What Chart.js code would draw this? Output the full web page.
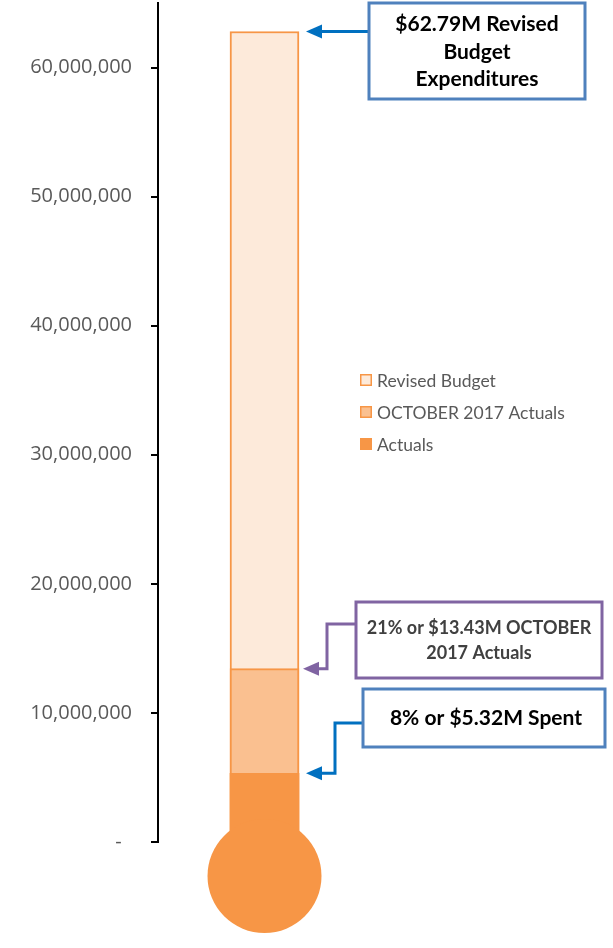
<!DOCTYPE html>
<html>
<head>
<meta charset="utf-8">
<script src="https://cdn.jsdelivr.net/npm/chart.js@4"></script>
<style>
html,body{margin:0;padding:0;background:#fff;}
#wrap{width:613px;height:948px;position:relative;}
</style>
</head>
<body>
<div id="wrap"><canvas id="c" width="613" height="948"></canvas></div>
<script>
// ---- data ----
const categories = ['Expenditures'];
const seriesNames = ['Revised Budget', 'OCTOBER 2017 Actuals', 'Actuals'];
const revisedBudget = [62790000];
const octoberActuals = [13430000];
const actuals = [5320000];
const yTicks = [0, 10000000, 20000000, 30000000, 40000000, 50000000, 60000000];
const annotationTexts = [
  ['$62.79M Revised', 'Budget', 'Expenditures'],
  ['21% or $13.43M OCTOBER', '2017 Actuals'],
  ['8% or $5.32M Spent']
];

const ORANGE = '#F79646';
const FONT = 'Lato, "Open Sans", sans-serif';
const TICK_FONT = '"Open Sans", Lato, sans-serif';

const decorPlugin = {
  id: 'decor',
  afterDatasetsDraw(chart) {
    const ctx = chart.ctx;
    const meta = chart.getDatasetMeta(2);
    const bar = meta.data[0];
    const y = chart.scales.y;
    // thermometer bulb
    ctx.save();
    ctx.fillStyle = ORANGE;
    ctx.beginPath();
    ctx.arc(bar.x, y.getPixelForValue(0) + 34, 57, 0, Math.PI * 2);
    ctx.fill();
    ctx.restore();
  },
  afterDraw(chart) {
    const ctx = chart.ctx;
    const y = chart.scales.y;
    const barMeta = chart.getDatasetMeta(0).data[0];
    const barRight = barMeta.x + barMeta.width / 2;

    // legend
    const legendItems = [
      {text: seriesNames[0], fill: '#FDEADA', stroke: ORANGE},
      {text: seriesNames[1], fill: '#FAC090', stroke: ORANGE},
      {text: seriesNames[2], fill: ORANGE, stroke: null}
    ];
    ctx.save();
    ctx.font = '17.5px ' + FONT;
    ctx.textBaseline = 'middle';
    legendItems.forEach((it, i) => {
      const cy = 380 + i * 32;
      ctx.fillStyle = it.fill;
      ctx.fillRect(360, cy - 6, 12, 12);
      if (it.stroke) {
        ctx.strokeStyle = it.stroke;
        ctx.lineWidth = 1.5;
        ctx.strokeRect(360.75, cy - 5.25, 10.5, 10.5);
      }
      ctx.fillStyle = '#595959';
      ctx.textAlign = 'left';
      ctx.fillText(it.text, 377, cy + 1);
    });
    ctx.restore();

    function box(x, yy, w, h, color) {
      ctx.save();
      ctx.fillStyle = '#fff';
      ctx.fillRect(x, yy, w, h);
      ctx.strokeStyle = color;
      ctx.lineWidth = 3;
      ctx.strokeRect(x, yy, w, h);
      ctx.restore();
    }
    function texts(lines, cx, ys, size, color) {
      ctx.save();
      ctx.font = 'bold ' + size + 'px ' + FONT;
      ctx.fillStyle = color;
      ctx.textAlign = 'center';
      ctx.textBaseline = 'middle';
      lines.forEach((l, i) => ctx.fillText(l, cx, ys[i]));
      ctx.restore();
    }
    function path(points, color) {
      ctx.save();
      ctx.strokeStyle = color;
      ctx.fillStyle = color;
      ctx.lineWidth = 3;
      ctx.beginPath();
      ctx.moveTo(points[0][0], points[0][1]);
      for (let i = 1; i < points.length - 1; i++) ctx.lineTo(points[i][0], points[i][1]);
      const tip = points[points.length - 1];
      ctx.lineTo(tip[0] + 12, tip[1]);
      ctx.stroke();
      ctx.beginPath();
      ctx.moveTo(tip[0], tip[1]);
      ctx.lineTo(tip[0] + 16, tip[1] - 7);
      ctx.lineTo(tip[0] + 16, tip[1] + 7);
      ctx.closePath();
      ctx.fill();
      ctx.restore();
    }

    const tipX = barRight + 7;
    // annotation 1
    const y1 = y.getPixelForValue(revisedBudget[0]);
    path([[369, y1], [tipX, y1]], '#0070C0');
    box(369, 3, 216, 96, '#4F81BD');
    texts(annotationTexts[0], 477, [24, 52, 79], 21, '#000');

    // annotation 2
    const y2 = y.getPixelForValue(octoberActuals[0]);
    path([[356, 624], [327, 624], [327, y2], [tipX - 3, y2]], '#8064A2');
    box(356, 602, 246, 76, '#8064A2');
    texts(annotationTexts[1], 479, [628, 653], 18, '#404040');

    // annotation 3
    const y3 = y.getPixelForValue(actuals[0]);
    path([[363, 723], [335, 723], [335, y3], [tipX, y3]], '#0070C0');
    box(363, 689, 242, 58, '#4F81BD');
    texts(annotationTexts[2], 486, [718], 21, '#000');
  }
};

new Chart(document.getElementById('c'), {
  type: 'bar',
  data: {
    labels: categories,
    datasets: [
      {label: seriesNames[0], data: revisedBudget, backgroundColor: '#FDEADA', borderColor: ORANGE, borderWidth: 2, order: 3, barThickness: 69},
      {label: seriesNames[1], data: octoberActuals, backgroundColor: '#FAC090', borderColor: ORANGE, borderWidth: 2, order: 2, barThickness: 69},
      {label: seriesNames[2], data: actuals, backgroundColor: ORANGE, borderWidth: 0, order: 1, barThickness: 69}
    ]
  },
  options: {
    responsive: false,
    animation: false,
    events: [],
    layout: {padding: {top: 3, bottom: 106, left: 0, right: 242}},
    plugins: {legend: {display: false}, tooltip: {enabled: false}},
    scales: {
      x: {stacked: true, display: false},
      y: {
        stacked: false,
        min: 0,
        max: 65000000,
        afterBuildTicks: (s) => { s.ticks = yTicks.map(v => ({value: v})); },
        afterFit: (s) => { s.width = 158; s.paddingTop = 0; s.paddingBottom = 0; },
        border: {display: true, color: '#000', width: 2},
        grid: {drawOnChartArea: false, drawTicks: true, tickLength: 7, color: '#000', lineWidth: 2},
        ticks: {
          padding: 19,
          color: '#595959',
          font: {family: TICK_FONT, size: 20},
          callback: (v) => v === 0 ? '-  ' : v.toLocaleString('en-US')
        }
      }
    }
  },
  plugins: [decorPlugin]
});
</script>
</body>
</html>
